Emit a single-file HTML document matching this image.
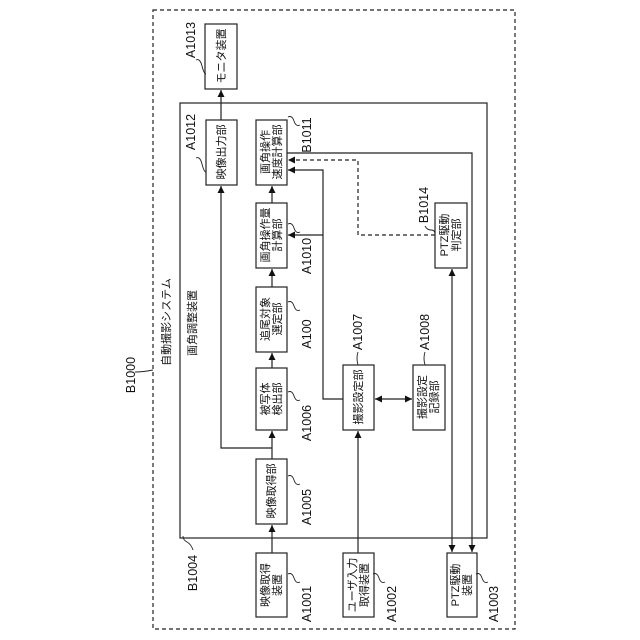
<!DOCTYPE html>
<html><head><meta charset="utf-8"><style>
html,body{margin:0;padding:0;background:#fff;}
svg{display:block;}
text{font-family:"Liberation Sans","Noto Sans CJK JP",sans-serif;fill:#111;}
.b{font-size:11px;}
.l{font-size:12.5px;}
</style></head><body>
<svg width="640" height="640" viewBox="0 0 640 640" xmlns="http://www.w3.org/2000/svg">
<defs>
<marker id="a" markerWidth="8" markerHeight="8" refX="7" refY="4" orient="auto" markerUnits="userSpaceOnUse"><path d="M0,0.5 L7,4 L0,7.5 Z" fill="#111"/></marker>
<marker id="s" markerWidth="8" markerHeight="8" refX="1" refY="4" orient="auto" markerUnits="userSpaceOnUse"><path d="M8,0.5 L1,4 L8,7.5 Z" fill="#111"/></marker>
</defs>
<g fill="none" stroke="#222" stroke-width="1.2">
<rect x="153" y="10" width="362" height="619" stroke-dasharray="4,3"/>
<rect x="180" y="103" width="307" height="435"/>
<!-- boxes -->
<rect x="205" y="24" width="32" height="65" fill="#fff"/>
<rect x="206" y="120" width="31" height="65"/>
<rect x="256" y="120" width="31" height="65"/>
<rect x="256" y="203" width="31" height="65"/>
<rect x="256" y="287" width="31" height="65"/>
<rect x="256" y="368" width="31" height="62"/>
<rect x="256" y="459" width="31" height="65"/>
<rect x="256" y="553" width="31" height="64"/>
<rect x="343" y="553" width="31" height="64"/>
<rect x="343" y="365" width="31" height="65"/>
<rect x="413" y="365" width="32" height="65"/>
<rect x="447" y="553" width="30" height="64"/>
<rect x="435" y="203" width="32" height="65"/>
<!-- connectors -->
<line x1="272" y1="553" x2="272" y2="525" marker-end="url(#a)"/>
<line x1="272" y1="459" x2="272" y2="431" marker-end="url(#a)"/>
<line x1="272" y1="368" x2="272" y2="353" marker-end="url(#a)"/>
<line x1="272" y1="287" x2="272" y2="269" marker-end="url(#a)"/>
<line x1="272" y1="203" x2="272" y2="186" marker-end="url(#a)"/>
<polyline points="272,448 221,448 221,186" marker-end="url(#a)"/>
<line x1="221" y1="120" x2="221" y2="90" marker-end="url(#a)"/>
<polyline points="343,399 323,399 323,170 288,170" marker-end="url(#a)"/>
<line x1="323" y1="235" x2="288" y2="235" marker-end="url(#a)"/>
<polyline points="435,235 358,235 358,160 288,160" stroke-dasharray="4,3" marker-end="url(#a)"/>
<polyline points="287,153 472,153 472,552" marker-end="url(#a)"/>
<line x1="452" y1="269" x2="452" y2="552" marker-start="url(#s)" marker-end="url(#a)"/>
<line x1="358" y1="553" x2="358" y2="431" marker-end="url(#a)"/>
<line x1="375" y1="399" x2="412" y2="399" marker-start="url(#s)" marker-end="url(#a)"/>
<!-- leaders -->
<path d="M196,60 q4,-2 6,6 t4,8" stroke-width="0.9"/>
<path d="M196,158 q4,-2 6,6 t4,8" stroke-width="0.9"/>
<path d="M300,125 q-4,2 -6,-4 t-6,-4" stroke-width="0.9"/>
<path d="M300,232 q-4,2 -6,-4 t-6,-4" stroke-width="0.9"/>
<path d="M300,310 q-4,2 -6,-4 t-6,-4" stroke-width="0.9"/>
<path d="M300,400 q-4,2 -6,-4 t-6,-4" stroke-width="0.9"/>
<path d="M300,484 q-4,2 -6,-4 t-6,-4" stroke-width="0.9"/>
<path d="M300,582 q-4,2 -6,-4 t-6,-4" stroke-width="0.9"/>
<path d="M385,582 q-4,2 -6,-4 t-6,-4" stroke-width="0.9"/>
<path d="M488,582 q-4,2 -6,-4 t-6,-4" stroke-width="0.9"/>
<path d="M425,226 q2,4 6,4 t4,4" stroke-width="0.9"/>
<path d="M358,352 q-2,6 0,13" stroke-width="0.9"/>
<path d="M425,352 q-2,6 0,13" stroke-width="0.9"/>
<path d="M193,550 q-2,-6 -6,-8 t-4,-6" stroke-width="0.9"/>
<path d="M135,372 q8,0 18,-2" stroke-width="0.9"/>
</g>
<g text-anchor="middle" class="b">
<text transform="translate(225,56) rotate(-90)">モニタ装置</text>
<text transform="translate(225,152) rotate(-90)">映像出力部</text>
<text transform="translate(269,152) rotate(-90)">画角操作</text>
<text transform="translate(281,152) rotate(-90)">速度計算部</text>
<text transform="translate(269,235) rotate(-90)">画角操作量</text>
<text transform="translate(281,235) rotate(-90)">計算部</text>
<text transform="translate(269,319) rotate(-90)">追尾対象</text>
<text transform="translate(281,319) rotate(-90)">選定部</text>
<text transform="translate(269,399) rotate(-90)">被写体</text>
<text transform="translate(281,399) rotate(-90)">検出部</text>
<text transform="translate(275,491) rotate(-90)">映像取得部</text>
<text transform="translate(269,585) rotate(-90)">映像取得</text>
<text transform="translate(281,585) rotate(-90)">装置</text>
<text transform="translate(356,585) rotate(-90)">ユーザ入力</text>
<text transform="translate(368,585) rotate(-90)">取得装置</text>
<text transform="translate(362,397) rotate(-90)">撮影設定部</text>
<text transform="translate(426,397) rotate(-90)">撮影設定</text>
<text transform="translate(438,397) rotate(-90)">記録部</text>
<text transform="translate(459,585) rotate(-90)">PTZ駆動</text>
<text transform="translate(471,585) rotate(-90)">装置</text>
<text transform="translate(448,235) rotate(-90)">PTZ駆動</text>
<text transform="translate(460,235) rotate(-90)">判定部</text>
</g>
<g text-anchor="middle" class="l">
<text transform="translate(195,40) rotate(-90)">A1013</text>
<text transform="translate(195,132) rotate(-90)">A1012</text>
<text transform="translate(311,135) rotate(-90)">B1011</text>
<text transform="translate(311,256) rotate(-90)">A1010</text>
<text transform="translate(428,205) rotate(-90)">B1014</text>
<text transform="translate(311,334) rotate(-90)">A100</text>
<text transform="translate(311,423) rotate(-90)">A1006</text>
<text transform="translate(311,507) rotate(-90)">A1005</text>
<text transform="translate(311,604) rotate(-90)">A1001</text>
<text transform="translate(396,604) rotate(-90)">A1002</text>
<text transform="translate(498,604) rotate(-90)">A1003</text>
<text transform="translate(362,332) rotate(-90)">A1007</text>
<text transform="translate(429,332) rotate(-90)">A1008</text>
<text transform="translate(197,573) rotate(-90)">B1004</text>
<text transform="translate(135,375) rotate(-90)">B1000</text>
</g>
<g text-anchor="middle" class="b">
<text transform="translate(170,322) rotate(-90)">自動撮影システム</text>
<text transform="translate(196,323) rotate(-90)">画角調整装置</text>
</g>
</svg>
</body></html>
